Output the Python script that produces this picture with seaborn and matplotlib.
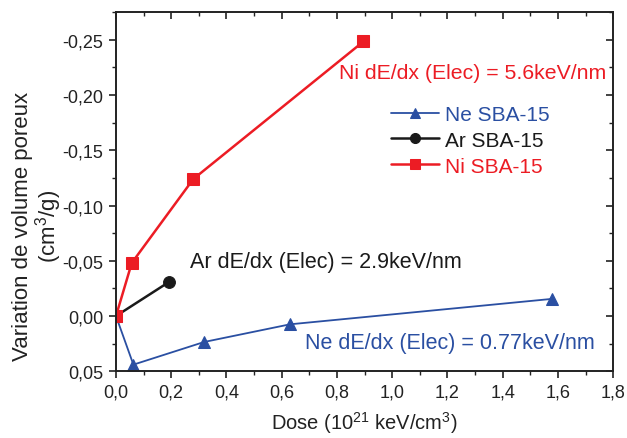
"""Variation de volume poreux vs dose for Ne, Ar, Ni irradiated SBA-15."""

import matplotlib
matplotlib.use("Agg")
import matplotlib.pyplot as plt
import numpy as np
import pandas as pd
import seaborn as sns
from matplotlib.ticker import FuncFormatter, MultipleLocator

sns.set_style("ticks")
plt.rcParams["font.family"] = ["Liberation Sans", "DejaVu Sans"]
plt.rcParams["mathtext.fontset"] = "custom"
plt.rcParams["mathtext.rm"] = "Liberation Sans"

# --------------------------------------------------------------------------
# Data (dose in 1e21 keV/cm3, pore volume variation in cm3/g)
# --------------------------------------------------------------------------
ne_dose = [0.0, 0.063, 0.319, 0.630, 1.578]
ne_var = [0.0, 0.044, 0.0235, 0.0075, -0.0155]

ar_dose = [0.0, 0.193]
ar_var = [0.0, -0.031]

ni_dose = [0.0, 0.057, 0.280, 0.896]
ni_var = [0.0, -0.048, -0.124, -0.2485]

BLUE = "#2a4fa2"
BLACK = "#1a1a1a"
RED = "#ec1c24"
INK = "#222222"

series = [
    ("Ne SBA-15", ne_dose, ne_var, BLUE, "^", 1.3),
    ("Ar SBA-15", ar_dose, ar_var, BLACK, "o", 1.8),
    ("Ni SBA-15", ni_dose, ni_var, RED, "s", 1.8),
]

fig = plt.figure(figsize=(6.27, 4.39), dpi=100)
ax = fig.add_axes([0.185, 0.152, 0.793, 0.818])

for name, x, y, col, mk, lw in series:
    df = pd.DataFrame({"dose": x, "var": y})
    sns.lineplot(data=df, x="dose", y="var", ax=ax, sort=False,
                 color=col, marker=mk, markersize=8.5, markeredgecolor=col,
                 linewidth=lw, label=name)

ax.set_xlim(0, 1.8)
ax.set_ylim(0.05, -0.275)

ax.xaxis.set_major_locator(MultipleLocator(0.2))
ax.xaxis.set_minor_locator(MultipleLocator(0.1))
ax.yaxis.set_major_locator(MultipleLocator(0.05))
ax.yaxis.set_minor_locator(MultipleLocator(0.025))
ax.xaxis.set_major_formatter(FuncFormatter(lambda v, p: f"{v:.1f}".replace(".", ",")))
ax.yaxis.set_major_formatter(FuncFormatter(lambda v, p: f"{v:.2f}".replace(".", ",")))

ax.tick_params(which="major", direction="out", length=5, width=1.2,
               labelsize=13, colors=INK, pad=4)
ax.tick_params(which="minor", direction="out", length=3, width=1.0, colors=INK)
for s in ax.spines.values():
    s.set_visible(True)
    s.set_linewidth(1.4)
    s.set_color(INK)

# mirrored inward ticks on top and right
top = ax.secondary_xaxis("top")
top.xaxis.set_major_locator(MultipleLocator(0.2))
top.xaxis.set_minor_locator(MultipleLocator(0.1))
top.tick_params(which="major", direction="in", length=5, width=1.2,
                labeltop=False, colors=INK)
top.tick_params(which="minor", direction="in", length=3, width=1.0, colors=INK)
right = ax.secondary_yaxis("right")
right.yaxis.set_major_locator(MultipleLocator(0.05))
right.yaxis.set_minor_locator(MultipleLocator(0.025))
right.tick_params(which="major", direction="in", length=5, width=1.2,
                  labelright=False, colors=INK)
right.tick_params(which="minor", direction="in", length=3, width=1.0, colors=INK)
for sec in (top, right):
    for s in sec.spines.values():
        s.set_visible(False)

ax.set_xlabel(r"Dose (10$^{21}$ keV/cm$^{3}$)", fontsize=14.5, labelpad=6,
              color=INK)
ax.set_ylabel("Variation de volume poreux\n" + r"(cm$^{3}$/g)", fontsize=16,
              color=INK, linespacing=1.0)
ax.yaxis.set_label_coords(-0.105, 0.405)

ax.text(1.29, -0.220, "Ni dE/dx (Elec) = 5.6keV/nm", color=RED, fontsize=15.3,
        ha="center", va="center")
ax.text(0.761, -0.0495, "Ar dE/dx (Elec) = 2.9keV/nm", color=BLACK,
        fontsize=15.5, ha="center", va="center")
ax.text(1.21, 0.0238, "Ne dE/dx (Elec) = 0.77keV/nm", color=BLUE,
        fontsize=15.5, ha="center", va="center")

leg = ax.legend(loc="upper left", bbox_to_anchor=(0.553, 0.742), frameon=False,
                fontsize=15, handlelength=2.3, handletextpad=0.3,
                labelspacing=0.33, borderaxespad=0, borderpad=0,
                markerscale=0.85)
for txt, (_, _, _, col, _, _) in zip(leg.get_texts(), series):
    txt.set_color(col)

fig.savefig("out.png", dpi=100)
